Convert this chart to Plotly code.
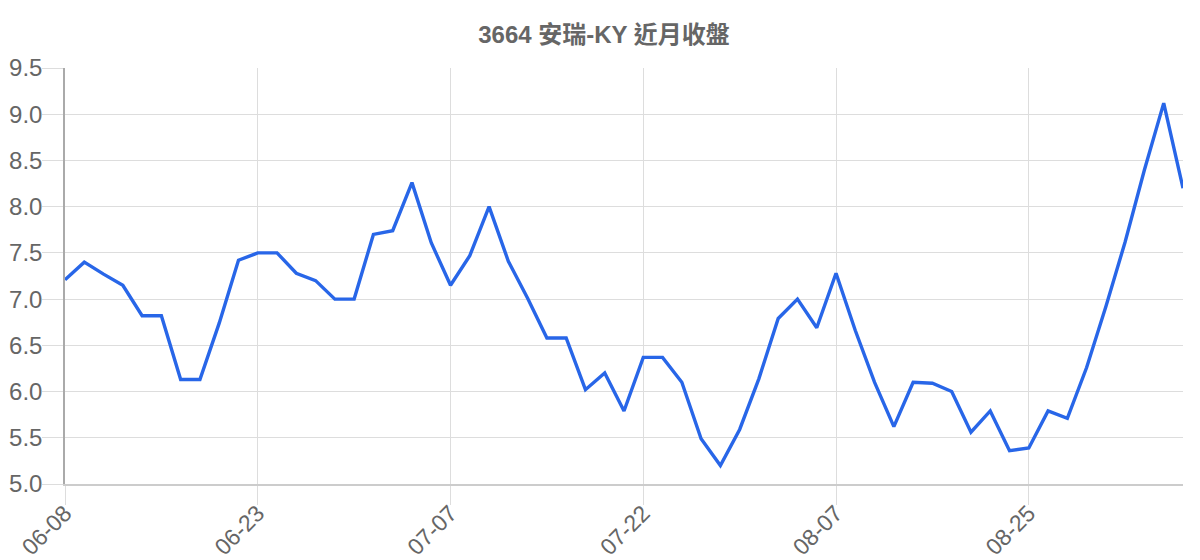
import plotly.graph_objects as go

# 3664 安瑞-KY daily closes
dates = [
    "06-08", "06-09", "06-10", "06-11", "06-15", "06-16", "06-17", "06-18", "06-21", "06-22",
    "06-23", "06-24", "06-25", "06-28", "06-29", "06-30", "07-01", "07-02", "07-05", "07-06",
    "07-07", "07-08", "07-09", "07-12", "07-13", "07-14", "07-15", "07-16", "07-19", "07-20",
    "07-22", "07-23", "07-26", "07-27", "07-28", "07-29", "07-30", "08-02", "08-04", "08-06",
    "08-07", "08-10", "08-11", "08-12", "08-13", "08-16", "08-17", "08-18", "08-19", "08-24",
    "08-25", "08-26", "08-27", "08-30", "08-31", "09-01", "09-02", "09-03", "09-06",
]
closes = [
    7.21, 7.40, 7.27, 7.15, 6.82, 6.82, 6.13, 6.13, 6.74, 7.42,
    7.50, 7.50, 7.28, 7.20, 7.00, 7.00, 7.70, 7.74, 8.26, 7.61,
    7.15, 7.47, 8.00, 7.41, 7.01, 6.58, 6.58, 6.02, 6.20, 5.79,
    6.37, 6.37, 6.10, 5.49, 5.20, 5.59, 6.14, 6.79, 7.00, 6.69,
    7.28, 6.66, 6.10, 5.62, 6.10, 6.09, 6.00, 5.56, 5.79, 5.36,
    5.39, 5.79, 5.71, 6.26, 6.92, 7.62, 8.40, 9.12, 8.20,
]
tick_labels = dates[::10]

fig = go.Figure()
fig.add_trace(go.Scatter(x=dates, y=closes, mode="lines",
                         line=dict(color="#2866e8", width=3.4),
                         hoverinfo="x+y", showlegend=False))

# the page body adds an 8px offset, margins below account for it
fig.update_layout(
    width=1200, height=560,
    paper_bgcolor="white", plot_bgcolor="white",
    margin=dict(l=57, r=25, t=60, b=84, autoexpand=False),
    font=dict(family="Liberation Sans, Arial, Noto Sans CJK TC", color="#666666"),
    title=dict(text="<b>3664 安瑞-KY 近月收盤</b>", x=0.4967, xanchor="center",
               y=0.952, yanchor="middle",
               font=dict(size=24, color="#666666",
                         family="Liberation Sans, Noto Sans CJK TC")),
)
fig.update_xaxes(
    type="category", range=[0, len(dates) - 1],
    tickmode="array", tickvals=tick_labels, ticktext=tick_labels,
    tickangle=-45, tickfont=dict(size=23, color="#666666"),
    ticklabelstandoff=-14,
    showgrid=True, gridcolor="#dddddd", gridwidth=1,
    ticks="outside", ticklen=19, tickcolor="#dddddd",
    showline=True, linecolor="#cccccc", linewidth=1.5,
    zeroline=False, automargin=False,
)
fig.update_yaxes(
    range=[5.0, 9.5], dtick=0.5, tick0=5.0, tickformat=".1f",
    tickfont=dict(size=24, color="#666666"),
    ticklabelstandoff=-5,
    showgrid=True, gridcolor="#dddddd", gridwidth=1,
    ticks="outside", ticklen=21, tickcolor="#dddddd",
    showline=True, linecolor="#aaaaaa", linewidth=1.5,
    zeroline=False, automargin=False,
)

fig.write_html("out.html")
